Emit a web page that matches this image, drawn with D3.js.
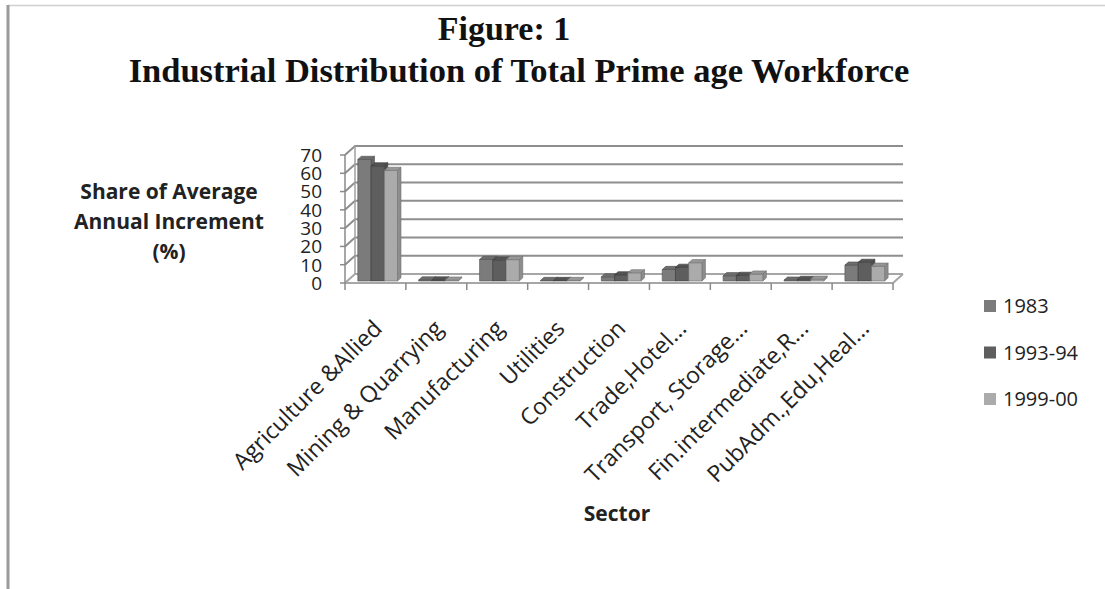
<!DOCTYPE html>
<html>
<head>
<meta charset="utf-8">
<script src="https://cdn.jsdelivr.net/npm/d3@7"></script>
<style>
  body { margin: 0; background: #fff; }
  svg { display: block; }
</style>
</head>
<body>
<div id="chart"></div>
<script>
var categories = ['Agriculture &Allied', 'Mining & Quarrying', 'Manufacturing', 'Utilities', 'Construction',
  'Trade,Hotel...', 'Transport, Storage...', 'Fin.intermediate,R...', 'PubAdm.,Edu,Heal...']
var seriesNames = ['1983', '1993-94', '1999-00']
var values1983 = [66.5, 0.6, 11.8, 0.3, 2.3, 6.3, 2.9, 0.5, 8.7]
var values1993 = [63, 0.6, 11.6, 0.3, 3.4, 7.5, 3.1, 0.9, 10.2]
var values1999 = [60.5, 0.5, 11.7, 0.3, 4.5, 10, 3.8, 1.0, 8.1]
var yTicks = [0, 10, 20, 30, 40, 50, 60, 70]
var seriesColors = ['#7b7b7b', '#5e5e5e', '#ababab']

var width = 1105, height = 589
var sans = '"Open Sans", sans-serif'
var svg = d3.select('#chart').append('svg').attr('width', width).attr('height', height)

// page frame (cropped scan edges)
svg.append('line').attr('x1', 8).attr('x2', width).attr('y1', 5.5).attr('y2', 5.5)
  .attr('stroke', '#cfcfcf').attr('stroke-width', 1.5)
svg.append('line').attr('x1', 8).attr('x2', 8).attr('y1', 5).attr('y2', height)
  .attr('stroke', '#9a9a9a').attr('stroke-width', 3)

// titles
svg.append('text').attr('x', 504).attr('y', 40).attr('text-anchor', 'middle')
  .style('font-family', '"Liberation Serif", serif').style('font-weight', 'bold').style('font-size', '34px')
  .attr('fill', '#111').text('Figure: 1')
svg.append('text').attr('x', 519).attr('y', 82).attr('text-anchor', 'middle')
  .style('font-family', '"Liberation Serif", serif').style('font-weight', 'bold').style('font-size', '34.5px')
  .attr('fill', '#111').text('Industrial Distribution of Total Prime age Workforce')

// 3d plot geometry: front plane + depth offset
var x0 = 345, x1 = 893
var depthX = 10, depthY = -9
var z0 = 0.22, z1 = 0.57
var x = d3.scaleBand().domain(categories).range([x0, x1])
var xs = d3.scaleBand().domain(seriesNames).range([0, x.bandwidth()]).paddingInner(0).paddingOuter(0.8)
var y = d3.scaleLinear().domain([0, 70]).range([283, 155])

function pt(xv, v, z) { return [xv + z * depthX, y(v) + z * depthY] }

var grid = svg.append('g')
yTicks.forEach(function (v) {
  var a = pt(x0, v, 0), b = pt(x0, v, 1), c = pt(x1, v, 1)
  grid.append('polyline').attr('points', [a, b, c].join(' '))
    .attr('fill', 'none').attr('stroke', v === 0 ? '#a6a6a6' : '#8e8e8e').attr('stroke-width', 2)
})
// back wall left edge
grid.append('line')
  .attr('x1', pt(x0, 0, 1)[0]).attr('y1', pt(x0, 0, 1)[1])
  .attr('x2', pt(x0, 70, 1)[0]).attr('y2', pt(x0, 70, 1)[1])
  .attr('stroke', '#a0a0a0').attr('stroke-width', 1.5)
// floor front and right edges
grid.append('polyline').attr('points', [pt(x0, 0, 0), pt(x1, 0, 0), pt(x1, 0, 1)].join(' '))
  .attr('fill', 'none').attr('stroke', '#a6a6a6').attr('stroke-width', 2)

// bars, drawn left to right so right-hand bars cover side faces
var seriesValues = [values1983, values1993, values1999]
var bars = svg.append('g')
categories.forEach(function (cat, i) {
  seriesNames.forEach(function (s, j) {
    var v = seriesValues[j][i]
    var xl = x(cat) + xs(s), xr = xl + xs.bandwidth()
    var col = d3.color(seriesColors[j])
    var front = [pt(xl, 0, z0), pt(xr, 0, z0), pt(xr, v, z0), pt(xl, v, z0)]
    var side = [pt(xr, 0, z0), pt(xr, 0, z1), pt(xr, v, z1), pt(xr, v, z0)]
    var top = [pt(xl, v, z0), pt(xr, v, z0), pt(xr, v, z1), pt(xl, v, z1)]
    var g = bars.append('g').attr('stroke', col.darker(1.2)).attr('stroke-width', 0.6).attr('stroke-linejoin', 'round')
    g.append('polygon').attr('points', side.join(' ')).attr('fill', col.darker(0.55))
    g.append('polygon').attr('points', front.join(' ')).attr('fill', col)
    g.append('polygon').attr('points', top.join(' ')).attr('fill', col.darker(0.35))
  })
})

// front value axis
var axisG = svg.append('g')
axisG.append('line').attr('x1', x0).attr('x2', x0).attr('y1', y(0)).attr('y2', y(70))
  .attr('stroke', '#8a8a8a').attr('stroke-width', 1.5)
yTicks.forEach(function (v) {
  axisG.append('line').attr('x1', x0 - 5).attr('x2', x0).attr('y1', y(v)).attr('y2', y(v))
    .attr('stroke', '#8a8a8a').attr('stroke-width', 1.5)
  axisG.append('text').attr('x', 322).attr('y', y(v)).attr('dy', '0.36em').attr('text-anchor', 'end')
    .style('font-family', sans).style('font-size', '19px').attr('fill', '#222').text(v)
})

// category ticks and labels
var catTicks = categories.map(function (c) { return x(c) }).concat([x1])
catTicks.forEach(function (t) {
  axisG.append('line').attr('x1', t).attr('x2', t).attr('y1', y(0)).attr('y2', y(0) + 7)
    .attr('stroke', '#8a8a8a').attr('stroke-width', 1.5)
})
categories.forEach(function (c) {
  var cx = x(c) + x.bandwidth() / 2 + 8
  axisG.append('text').attr('transform', 'translate(' + cx + ',330) rotate(-45)')
    .attr('text-anchor', 'end').style('font-family', sans).style('font-size', '23px')
    .attr('fill', '#222').text(c)
})

// axis titles
var yTitle = ['Share of Average', 'Annual Increment', '(%)']
yTitle.forEach(function (t, i) {
  svg.append('text').attr('x', 169).attr('y', 199 + i * 30).attr('text-anchor', 'middle')
    .style('font-family', sans).style('font-weight', 'bold').style('font-size', '21px')
    .attr('fill', '#222').text(t)
})
svg.append('text').attr('x', 617).attr('y', 521).attr('text-anchor', 'middle')
  .style('font-family', sans).style('font-weight', 'bold').style('font-size', '21px')
  .attr('fill', '#222').text('Sector')

// legend
var legend = svg.append('g')
seriesNames.forEach(function (s, j) {
  var ly = 306 + j * 46.5
  legend.append('rect').attr('x', 984).attr('y', ly - 6).attr('width', 12).attr('height', 12)
    .attr('fill', seriesColors[j])
  legend.append('text').attr('x', 1003).attr('y', ly).attr('dy', '0.36em')
    .style('font-family', sans).style('font-size', '20px').attr('fill', '#222').text(s)
})
</script>
</body>
</html>
